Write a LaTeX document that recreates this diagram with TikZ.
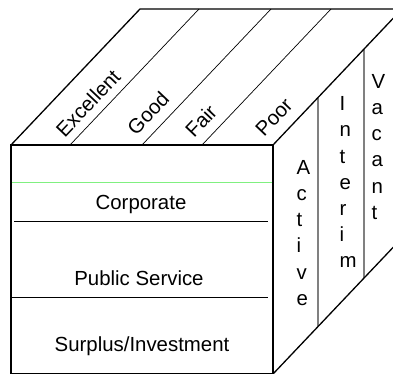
\documentclass[tikz,border=0pt]{standalone}
\usepackage{fontspec}
\setmainfont{Liberation Sans}
\definecolor{rowgreen}{RGB}{128,240,128}
\definecolor{colgray}{RGB}{128,128,128}
\begin{document}
\begin{tikzpicture}[x=1pt,y=-1pt,
  edge/.style={line width=1.3pt, line join=miter},
  bandline/.style={line width=0.7pt},
  rowline/.style={line width=0.9pt},
  colline/.style={draw=colgray, line width=1.1pt},
  lbl/.style={font=\fontsize{20.4}{24}\selectfont, inner sep=0pt},
  toplbl/.style={lbl, rotate=46.5, anchor=center},
  rowlbl/.style={lbl, anchor=base},
  stack/.style={font=\fontsize{20.4}{26.2}\selectfont, align=left, inner sep=0pt, anchor=north west}
]
\useasboundingbox (0,0) rectangle (393,374);
\clip (0,0) rectangle (393,374);

% cube corners
\coordinate (FTL) at (11,145);
\coordinate (FTR) at (273,145);
\coordinate (FBL) at (11,374);
\coordinate (FBR) at (273,374);
\coordinate (BTL) at (140,9);
\coordinate (BTR) at (402,9);
\coordinate (BBR) at (402,238);

% band dividers on the top face
\foreach \i/\xf in {1/70,2/142,3/202}{
  \coordinate (tf\i) at (\xf,145);
  \coordinate (tb\i) at (\xf+129,9);
  \draw[bandline] (tf\i) -- (tb\i);
}

% column dividers on the side face
\coordinate (sa1) at (318,97.6);
\coordinate (sb1) at (318,325.6);
\coordinate (sa2) at (364,49);
\coordinate (sb2) at (364,277.5);
\draw[colline] (sa1) -- (sb1);
\draw[colline] (sa2) -- (sb2);

% row dividers on the front face
\coordinate (g1) at (11,182);
\coordinate (g2) at (273,182);
\coordinate (r1a) at (14,221);
\coordinate (r1b) at (268,221);
\coordinate (r2a) at (11,297);
\coordinate (r2b) at (268,297);
\draw[draw=rowgreen, line width=0.9pt] (g1) -- (g2);
\draw[rowline] (r1a) -- (r1b);
\draw[rowline] (r2a) -- (r2b);

% outline
\draw[edge] (FBL) -- (FTL) -- (FTR) -- (FBR) -- cycle;
\draw[edge] (FTL) -- (BTL) -- (BTR) -- (FTR);
\draw[edge] (BTR) -- (BBR) -- (FBR);

% top face labels
\node[toplbl] (excellent) at (88,103) {Excellent};
\node[toplbl] (good) at (148,113) {Good};
\node[toplbl] (fair) at (201,121) {Fair};
\node[toplbl] (poor) at (274,117) {Poor};

% front face labels
\node[rowlbl] (corporate) at (141,209.5) {Corporate};
\node[rowlbl] (public) at (139,285.5) {Public Service};
\node[rowlbl] (surplus) at (142,351.5) {Surplus/Investment};

% side face labels
\node[stack] (active) at (296.5,160) {A\\c\\t\\i\\v\\e};
\node[stack] (interim) at (339.5,96.4) {I\\n\\t\\e\\r\\i\\m};
\node[stack] (vacant) at (371.5,74) {V\\a\\c\\a\\n\\t};
\end{tikzpicture}
\end{document}
